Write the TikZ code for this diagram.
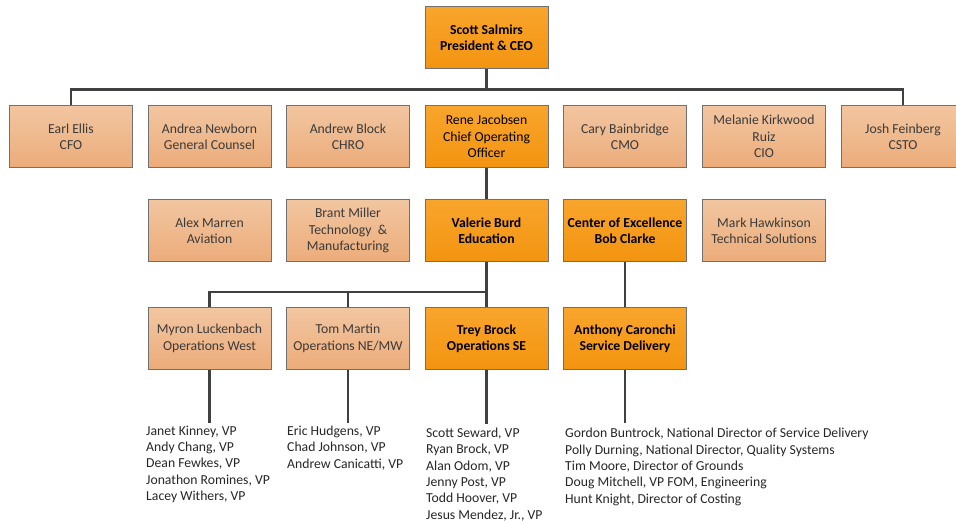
\documentclass[tikz,border=0pt]{standalone}
\usepackage{fontspec}
\setmainfont{Carlito}
\definecolor{boxline}{HTML}{707070}
\definecolor{lighttop}{HTML}{F2C6A1}
\definecolor{lightbot}{HTML}{ECAC7A}
\definecolor{darktop}{HTML}{F8A52C}
\definecolor{darkbot}{HTML}{F39410}
\definecolor{linkgray}{HTML}{404040}
\definecolor{textgray}{HTML}{3A3A3A}

\begin{document}
\begin{tikzpicture}[
    x=1pt, y=-1pt,
    every node/.style={font=\fontsize{13.7}{16.4}\selectfont},
    staff/.style={rectangle, draw=boxline, line width=0.9pt,
        top color=lighttop, bottom color=lightbot, text=textgray,
        minimum width=123pt, minimum height=62pt, align=center, inner sep=2pt},
    head/.style={staff, top color=darktop, bottom color=darkbot,
        text=black, font=\fontsize{13.7}{16.4}\selectfont\bfseries},
    vplist/.style={anchor=north west, align=left, inner sep=0pt, text=black!85},
    link/.style={line width=2.8pt, draw=linkgray}
]
    \useasboundingbox (0,0) rectangle (956,521);
    \clip (0,0) rectangle (956,521);
    \node[head] (ceo) at (486.5,37.5) {Scott Salmirs\\President \& CEO};
    \node[staff] (cfo) at (71,136.5) {Earl Ellis\\CFO};
    \node[staff] (counsel) at (209.5,136.5) {Andrea Newborn\\General Counsel};
    \node[staff] (chro) at (348,136.5) {Andrew Block\\CHRO};
    \node[head, font=\fontsize{13.7}{16.4}\selectfont] (coo) at (486.5,136.5) {Rene Jacobsen\\Chief Operating\\Officer};
    \node[staff] (cmo) at (625,136.5) {Cary Bainbridge\\CMO};
    \node[staff] (cio) at (764,136.5) {Melanie Kirkwood\\Ruiz\\CIO};
    \node[staff] (csto) at (903,136.5) {Josh Feinberg\\CSTO};
    \node[staff] (aviation) at (209.5,230.5) {Alex Marren\\Aviation};
    \node[staff] (tech) at (348,230.5) {Brant Miller\\Technology~ \&\\Manufacturing};
    \node[head] (edu) at (486.5,230.5) {Valerie Burd\\Education};
    \node[head] (coe) at (625,230.5) {Center of Excellence\\Bob Clarke};
    \node[staff] (techsol) at (764,230.5) {Mark Hawkinson\\Technical Solutions};
    \node[staff] (west) at (209.5,338.5) {Myron Luckenbach\\Operations West};
    \node[staff] (nemw) at (348,338.5) {Tom Martin\\Operations NE/MW};
    \node[head] (se) at (486.5,338.5) {Trey Brock\\Operations SE};
    \node[head] (service) at (625,338.5) {Anthony Caronchi\\Service Delivery};
    \node[vplist] (westvp) at (146,425.5) {Janet Kinney, VP\\Andy Chang, VP\\Dean Fewkes, VP\\Jonathon Romines, VP\\Lacey Withers, VP};
    \node[vplist] (nemwvp) at (287,425.5) {Eric Hudgens, VP\\Chad Johnson, VP\\Andrew Canicatti, VP};
    \node[vplist] (sevp) at (426,427.5) {Scott Seward, VP\\Ryan Brock, VP\\Alan Odom, VP\\Jenny Post, VP\\Todd Hoover, VP\\Jesus Mendez, Jr., VP};
    \node[vplist] (servicevp) at (565,428) {Gordon Buntrock, National Director of Service Delivery\\Polly Durning, National Director, Quality Systems\\Tim Moore, Director of Grounds\\Doug Mitchell, VP FOM, Engineering\\Hunt Knight, Director of Costing};
    \coordinate (topbus) at (486.5,89.5);
    \coordinate (opsbus) at (486.5,292);
    \coordinate (westend) at (209.5,423);
    \coordinate (nemwend) at (348,423);
    \coordinate (seend) at (486.5,424);
    \coordinate (serviceend) at (625,423);
    \draw[link] (ceo) -- (topbus);
    \draw[link] (topbus) -| (cfo);
    \draw[link] (topbus) -| (csto);
    \draw[link] (coo) -- (edu);
    \draw[link] (edu) -- (se);
    \draw[link] (opsbus) -| (west);
    \draw[link] (opsbus) -| (nemw);
    \draw[link] (coe) -- (service);
    \draw[link] (west) -- (westend);
    \draw[link] (nemw) -- (nemwend);
    \draw[link] (se) -- (seend);
    \draw[link] (service) -- (serviceend);
\end{tikzpicture}
\end{document}
